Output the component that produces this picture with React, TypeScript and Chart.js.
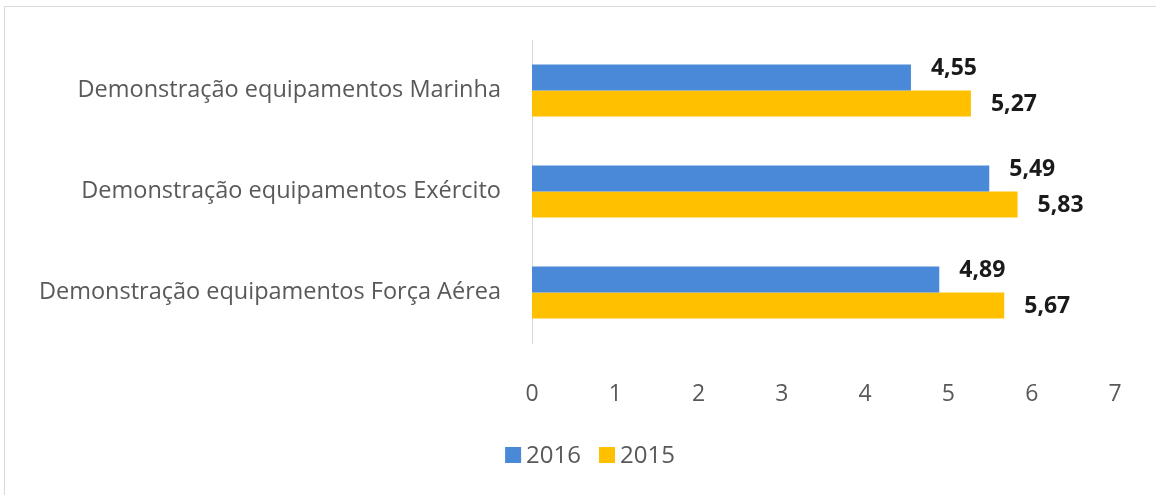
import React, { useEffect, useRef } from "react";
import { Chart, registerables } from "chart.js";

Chart.register(...registerables);

const categories = [
  "Demonstração equipamentos Marinha",
  "Demonstração equipamentos Exército",
  "Demonstração equipamentos Força Aérea",
];
const values2016 = [4.55, 5.49, 4.89];
const values2015 = [5.27, 5.83, 5.67];
const seriesLabels = ["2016", "2015"];
const seriesColors = ["#4a88d8", "#ffc000"];
const xTicks = [0, 1, 2, 3, 4, 5, 6, 7];

const FONT = "'Open Sans', 'Noto Sans', sans-serif";

const dataLabelPlugin = {
  id: "dataLabels",
  afterDatasetsDraw(chart: any) {
    const ctx = chart.ctx;
    ctx.save();
    ctx.font = `bold 23px ${FONT}`;
    ctx.fillStyle = "#1a1a1a";
    ctx.textAlign = "left";
    ctx.textBaseline = "middle";
    chart.data.datasets.forEach((ds: any, di: number) => {
      const meta = chart.getDatasetMeta(di);
      meta.data.forEach((bar: any, i: number) => {
        const v = ds.data[i] as number;
        const txt = v.toFixed(2).replace(".", ",");
        const dy = di === 0 ? -9 : 1;
        ctx.fillText(txt, bar.x + 20, bar.y + dy);
      });
    });
    ctx.restore();
  },
};

const legendPlugin = {
  id: "customLegend",
  afterDraw(chart: any) {
    const ctx = chart.ctx;
    ctx.save();
    ctx.font = `24px ${FONT}`;
    ctx.textBaseline = "middle";
    ctx.textAlign = "left";
    const box = 16;
    const gapText = 5;
    const gapItem = 18;
    const items = chart.data.datasets.map((ds: any) => ({
      label: ds.label,
      color: ds.backgroundColor,
      w: ctx.measureText(ds.label).width,
    }));
    const total =
      items.reduce((s: number, it: any) => s + box + gapText + it.w, 0) +
      gapItem * (items.length - 1);
    const cx = 590;
    const cy = 455;
    let x = cx - total / 2;
    items.forEach((it: any) => {
      ctx.fillStyle = it.color;
      ctx.fillRect(x, cy - box / 2, box, box);
      x += box + gapText;
      ctx.fillStyle = "#595959";
      ctx.fillText(it.label, x, cy + 1);
      x += it.w + gapItem;
    });
    ctx.restore();
  },
};

export default function App() {
  const ref = useRef<HTMLCanvasElement>(null);
  useEffect(() => {
    document.body.style.margin = "0";
    const chart = new Chart(ref.current!, {
      type: "bar",
      data: {
        labels: categories,
        datasets: [
          {
            label: seriesLabels[0],
            data: values2016,
            backgroundColor: seriesColors[0],
            categoryPercentage: 0.515,
            barPercentage: 1,
          },
          {
            label: seriesLabels[1],
            data: values2015,
            backgroundColor: seriesColors[1],
            categoryPercentage: 0.515,
            barPercentage: 1,
          },
        ],
      },
      options: {
        indexAxis: "y",
        animation: false,
        responsive: false,
        layout: { padding: { top: 40, right: 41, bottom: 61, left: 0 } },
        plugins: {
          tooltip: { enabled: false },
          legend: { display: false },
        },
        scales: {
          x: {
            min: 0,
            max: 7,
            afterBuildTicks: (scale: any) => {
              scale.ticks = xTicks.map((v) => ({ value: v }));
            },
            afterFit: (scale: any) => {
              scale.height = 91;
            },
            grid: { display: false },
            border: { display: false },
            ticks: {
              padding: 30,
              color: "#595959",
              font: { family: FONT, size: 23 },
            },
          },
          y: {
            afterFit: (scale: any) => {
              scale.width = 532;
            },
            grid: { display: false },
            border: { display: true, color: "#d9d9d9", width: 1 },
            ticks: {
              padding: 23,
              color: "#595959",
              font: { family: FONT, size: 23.5 },
            },
          },
        },
      },
      plugins: [dataLabelPlugin, legendPlugin],
    });
    return () => chart.destroy();
  }, []);
  return (
    <div style={{ position: "fixed", left: 0, top: 0, width: 1156, height: 495, background: "#fff" }}>
      <div
        style={{
          position: "absolute",
          left: 4,
          top: 6,
          right: -2,
          bottom: -2,
          border: "1px solid #d9d9d9",
          pointerEvents: "none",
        }}
      />
      <canvas ref={ref} width={1156} height={495} style={{ position: "absolute", left: 0, top: 0 }} />
    </div>
  );
}
